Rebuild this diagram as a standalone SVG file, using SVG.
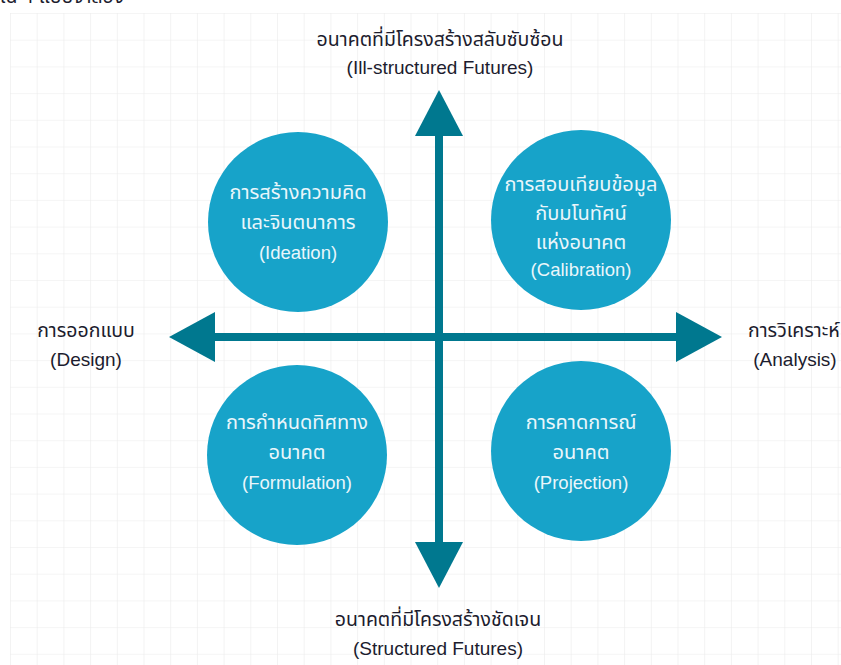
<svg xmlns="http://www.w3.org/2000/svg" width="841" height="665" viewBox="0 0 841 665">
  <style>
    .lbl { font-family: "Noto Sans Thai", "Liberation Sans", sans-serif; font-size: 19.5px; fill: #1c1c2e; text-anchor: middle; }
    .lbl-lat { font-family: "Liberation Sans", "Noto Sans", sans-serif; font-size: 19px; fill: #1c1c2e; text-anchor: middle; }
    .ctext { font-family: "Noto Sans Thai", "Liberation Sans", sans-serif; font-size: 20px; fill: #eaf6fb; text-anchor: middle; }
    .ctext-lat { font-family: "Liberation Sans", "Noto Sans", sans-serif; font-size: 18.5px; fill: #eaf6fb; text-anchor: middle; }
    .circ { fill: #17a3c9; }
    .arrow { fill: #00788f; }
    .axis { stroke: #00788f; stroke-width: 8; fill: none; }
  </style>
  <defs>
    <pattern id="grid" x="10" y="13" width="26.7" height="26.7" patternUnits="userSpaceOnUse">
      <path d="M0 0 H26.7 M0 0 V26.7" stroke="#ececec" stroke-width="1.2" fill="none"/>
    </pattern>
  </defs>
  <rect width="841" height="665" fill="#ffffff"/>
  <rect x="10" y="13" width="831" height="652" fill="url(#grid)"/>
  <text x="0" y="3" class="lbl" style="text-anchor:start">ใน 4 แบบจำลอง</text>

  <g id="connectors">
    <line class="axis" x1="439" y1="130" x2="439" y2="548"/>
    <line class="axis" x1="210" y1="337" x2="680" y2="337"/>
    <polygon class="arrow" points="439,90 415,136 463,136"/>
    <polygon class="arrow" points="439,588 415,542 463,542"/>
    <polygon class="arrow" points="169,337 215,312 215,362"/>
    <polygon class="arrow" points="722,337 676,312 676,362"/>
  </g>

  <g id="node-ideation">
    <circle class="circ" cx="298" cy="222" r="90"/>
    <text class="ctext" x="298" y="199">การสร้างความคิด</text>
    <text class="ctext" x="298" y="229">และจินตนาการ</text>
    <text class="ctext-lat" x="298" y="259">(Ideation)</text>
  </g>
  <g id="node-calibration">
    <circle class="circ" cx="581" cy="220" r="90"/>
    <text class="ctext" x="581" y="191">การสอบเทียบข้อมูล</text>
    <text class="ctext" x="581" y="220">กับมโนทัศน์</text>
    <text class="ctext" x="581" y="249">แห่งอนาคต</text>
    <text class="ctext-lat" x="581" y="276">(Calibration)</text>
  </g>
  <g id="node-formulation">
    <circle class="circ" cx="297" cy="455" r="90"/>
    <text class="ctext" x="297" y="429">การกำหนดทิศทาง</text>
    <text class="ctext" x="297" y="459">อนาคต</text>
    <text class="ctext-lat" x="297" y="489">(Formulation)</text>
  </g>
  <g id="node-projection">
    <circle class="circ" cx="581" cy="451" r="90"/>
    <text class="ctext" x="581" y="429">การคาดการณ์</text>
    <text class="ctext" x="581" y="459">อนาคต</text>
    <text class="ctext-lat" x="581" y="489">(Projection)</text>
  </g>

  <g id="label-top">
    <text class="lbl" x="440" y="46">อนาคตที่มีโครงสร้างสลับซับซ้อน</text>
    <text class="lbl-lat" x="440" y="74">(Ill-structured Futures)</text>
  </g>
  <g id="label-bottom">
    <text class="lbl" x="438" y="626">อนาคตที่มีโครงสร้างชัดเจน</text>
    <text class="lbl-lat" x="438" y="655">(Structured Futures)</text>
  </g>
  <g id="label-left">
    <text class="lbl" x="86" y="337">การออกแบบ</text>
    <text class="lbl-lat" x="86" y="366">(Design)</text>
  </g>
  <g id="label-right">
    <text class="lbl" x="748" y="337" style="text-anchor:start">การวิเคราะห์</text>
    <text class="lbl-lat" x="795" y="366">(Analysis)</text>
  </g>
</svg>
